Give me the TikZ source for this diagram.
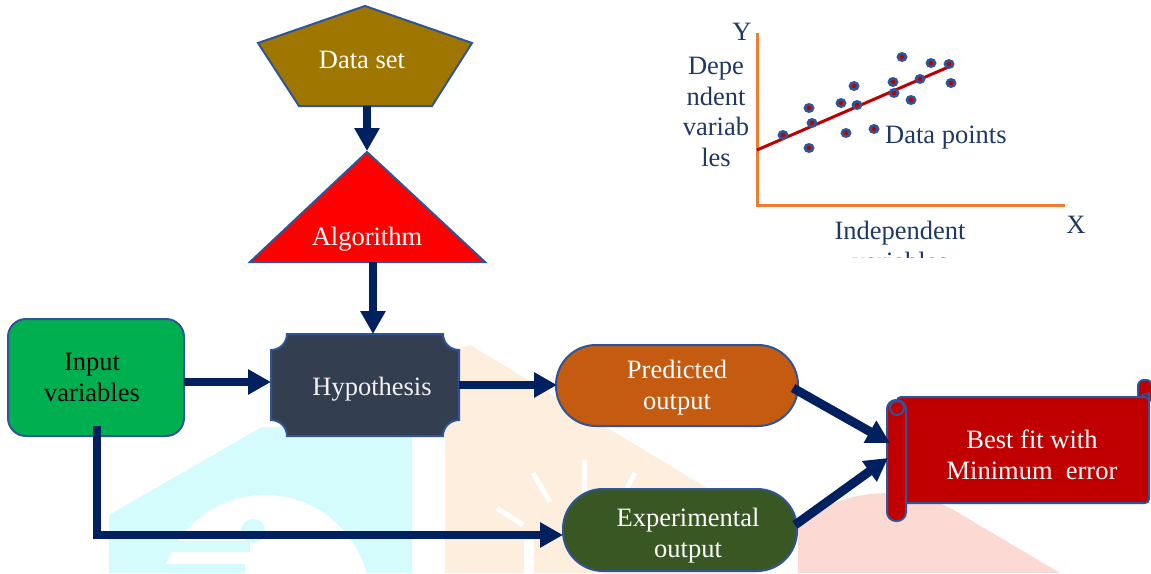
\documentclass[tikz,border=0pt]{standalone}
\usepackage{fontspec}
\setmainfont{Liberation Serif}
\usetikzlibrary{arrows.meta}
\definecolor{navy}{HTML}{002060}
\definecolor{bordblue}{HTML}{2F5597}
\definecolor{goldfill}{HTML}{9E7600}
\definecolor{hypfill}{HTML}{333F50}
\definecolor{inputfill}{HTML}{00B050}
\definecolor{predfill}{HTML}{C55A11}
\definecolor{expfill}{HTML}{385723}
\definecolor{scrollfill}{HTML}{C00000}
\definecolor{axisorange}{HTML}{ED7D31}
\definecolor{charttext}{HTML}{1F3864}
\definecolor{wmcyan}{HTML}{D4FCFC}
\definecolor{wmpeach}{HTML}{FEEEDD}
\definecolor{wmpink}{HTML}{FDD9D3}
\begin{document}
\begin{tikzpicture}[x=1pt,y=1pt,
  flow/.style={line width=8pt, draw=navy, -{Triangle[length=23pt,width=24pt]}},
  shapeborder/.style={draw=bordblue, line width=2pt},
  lbl/.style={font=\fontsize{26.5}{31}\selectfont, align=center, inner sep=0pt},
  wlbl/.style={lbl, text=white},
  clbl/.style={lbl, text=charttext},
  ray/.style={draw=white, line width=5pt},
]
\useasboundingbox (0,0) rectangle (1151,-573);
\fill[white] (0,0) rectangle (1151,-573);

% ---- faint watermark ----
\fill[wmcyan] (109,-573) -- (109,-515) -- (262,-427) -- (412,-427) -- (412,-573) -- cycle;
\begin{scope}
  \clip (109,-420) rectangle (412,-573);
  \fill[white] (265,-600) circle (105);
  \fill[wmcyan] (253,-531) circle (12);
  \fill[wmcyan] (109,-541) rectangle (250,-552);
  \fill[wmcyan] (109,-564) rectangle (245,-573);
  \fill[white] (237,-558) circle (5.5);
\end{scope}
\fill[wmpeach] (445,-573) -- (445,-352) -- (470,-345) -- (760,-520) -- (760,-573) -- cycle;
\draw[ray] (584,-460) -- (584,-497);
\draw[ray] (533,-473) -- (550,-502);
\draw[ray] (635,-473) -- (627,-488);
\draw[ray] (497,-508) -- (523,-525);
\draw[white, line width=10pt] (529,-540) -- (529,-573);
\fill[wmpink] (798,-573) -- (798,-527) .. controls (830,-492) and (905,-478) .. (962,-515) -- (1060,-573) -- cycle;

% ---- Data set (pentagon) ----
\path[fill=goldfill, shapeborder] (365,-6) -- (472,-43) -- (432,-106) -- (299,-106) -- (258,-43) -- cycle;
\node[wlbl] (dataset) at (362,-60) {Data set};
\coordinate (dsB) at (367,-106);

% ---- Algorithm (triangle) ----
\path[fill=red, shapeborder] (367,-152) -- (485,-262) -- (250,-262) -- cycle;
\node[wlbl] (algo) at (367,-239) {Algorithm};
\coordinate (algT) at (367,-151);
\coordinate (algB) at (373,-262);

% ---- Hypothesis (concave corners) ----
\path[fill=hypfill, shapeborder]
  (287,-334) -- (443,-334) arc[start angle=180,end angle=270,radius=16]
  -- (459,-420) arc[start angle=90,end angle=180,radius=16]
  -- (287,-436) arc[start angle=0,end angle=90,radius=16]
  -- (271,-350) arc[start angle=270,end angle=360,radius=16] -- cycle;
\node[lbl, text={rgb,255:red,242;green,242;blue,242}] (hyp) at (372,-389) {Hypothesis};
\coordinate (hypT) at (373,-334);
\coordinate (hypL) at (271,-382);
\coordinate (hypR) at (459,-385);

% ---- Input variables ----
\path[fill=inputfill, shapeborder, rounded corners=18pt] (8,-319) rectangle (184,-436);
\node[lbl, text=black] (input) at (92,-377) {Input\\variables};
\coordinate (inR) at (184,-382);
\coordinate (inB) at (97,-426);

% ---- Predicted output ----
\path[fill=predfill, shapeborder, rounded corners=40pt] (556,-345) rectangle (798,-426);
\node[wlbl] (pred) at (677,-388) {Predicted\\output};
\coordinate (predL) at (557,-385);
\coordinate (predR) at (793,-388);

% ---- Experimental output ----
\path[fill=expfill, shapeborder, rounded corners=40pt] (563,-489) rectangle (797,-571);
\node[wlbl] (exper) at (688,-536) {Experimental\\output};
\coordinate (expL) at (563,-535);
\coordinate (expR) at (795,-525);

% ---- Scroll ----
\path[fill=scrollfill, shapeborder, rounded corners=6pt] (1138,-380) rectangle (1152,-402);
\draw[bordblue, line width=1.5pt] (1142,-397) arc[start angle=180,end angle=0,radius=3.5] -- (1149,-392);
\path[fill=scrollfill, shapeborder, rounded corners=4pt] (897,-397) rectangle (1149,-503);
\path[fill=scrollfill, shapeborder, rounded corners=9pt] (887,-400) rectangle (906,-521);
\path[fill=scrollfill, shapeborder] (897,-408) circle (7);
\node[wlbl] (best) at (1032,-455) {Best fit with\\Minimum\ \ error};
\coordinate (scrA) at (890,-443);
\coordinate (scrB) at (888,-458);

% ---- connectors ----
\draw[flow] (dsB) -- (algT);
\draw[flow] (algB) -- (hypT);
\draw[flow] (inR) -- (hypL);
\draw[flow] (hypR) -- (predL);
\draw[flow] (inB) |- (expL);
\draw[flow, line width=9pt] (predR) -- (scrA);
\draw[flow, line width=9pt] (expR) -- (scrB);

% ---- scatter chart ----
\coordinate (yTop) at (757,-33);
\coordinate (origin) at (757,-205);
\coordinate (xEnd) at (1065,-205);
\draw[axisorange, line width=3pt] (yTop) -- (origin) -- (xEnd);
\draw[scrollfill, line width=3pt] (757,-150) -- (953,-65);
\foreach \px/\py in {783/135, 809/108, 812/123, 809/148, 841/103, 854/86, 857/105,
  846/133, 874/129, 893/82, 894/93, 902/57, 911/100, 920/79, 931/63, 949/64, 951/83} {
  \fill[bordblue] (\px,-\py) ellipse[x radius=5.5, y radius=5];
  \fill[scrollfill] (\px,-\py) circle (2.2);
}
\node[clbl] (ylab) at (742,-32) {Y};
\node[clbl] (xlab) at (1076,-225) {X};
\node[lbl, text=charttext, font=\fontsize{26.5}{30.5}\selectfont] (dep) at (716,-112) {Depe\\ndent\\variab\\les};
\node[clbl, anchor=west] (dpts) at (885,-138) {Data points};
\begin{scope}
  \clip (780,-205) rectangle (1030,-257);
  \node[clbl] (indep) at (900,-246) {Independent\\variables};
\end{scope}
\end{tikzpicture}
\end{document}
